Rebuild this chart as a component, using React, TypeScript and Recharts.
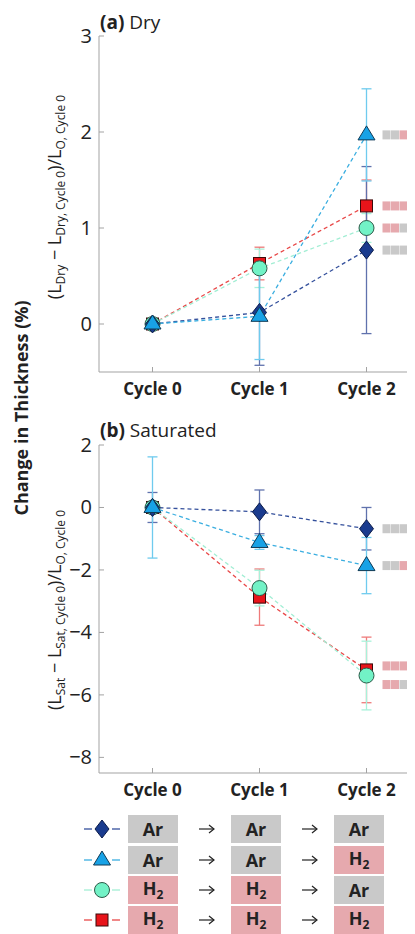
import React from 'react';
import { LineChart, Line, XAxis, YAxis, ErrorBar } from 'recharts';

const cycles = ['Cycle 0', 'Cycle 1', 'Cycle 2'];
const cycleIdx = [0, 1, 2];

// gas sequences per sample
const pathArArAr = ['Ar', 'Ar', 'Ar'];
const pathArArH2 = ['Ar', 'Ar', 'H2'];
const pathH2H2Ar = ['H2', 'H2', 'Ar'];
const pathH2H2H2 = ['H2', 'H2', 'H2'];

// (a) Dry
const dryArArAr = [0, 0.12, 0.77];
const dryArArArErr = [0.04, 0.55, 0.87];
const dryArArH2 = [0, 0.08, 1.97];
const dryArArH2Err = [0.04, 0.45, 0.48];
const dryH2H2Ar = [0, 0.58, 1.0];
const dryH2H2ArErr = [0.04, 0.2, 0.15];
const dryH2H2H2 = [0, 0.63, 1.23];
const dryH2H2H2Err = [0.04, 0.17, 0.27];

// (b) Saturated
const satArArAr = [0, -0.14, -0.68];
const satArArArErr = [0.48, 0.7, 0.68];
const satArArH2 = [0, -1.12, -1.86];
const satArArH2Err = [1.62, 0.22, 0.9];
const satH2H2Ar = [0, -2.58, -5.38];
const satH2H2ArErr = [0.1, 0.57, 1.1];
const satH2H2H2 = [0, -2.87, -5.2];
const satH2H2H2Err = [0.12, 0.9, 1.05];

const dryTicks = [0, 1, 2, 3];
const satTicks = [-8, -6, -4, -2, 0, 2];

const FONT = '"Open Sans", sans-serif';
const AXIS = '#a3a3a3';
const GRAY = '#c9c9c9';
const PINK = '#e6a9ae';

type Shape = 'diamond' | 'triangle' | 'circle' | 'square';

// drawing order: square, circle, diamond, triangle
const series = [
  { key: 'hhh', shape: 'square' as Shape, fill: '#e8141a', edge: '#3a0a0a', line: '#e84848', err: '#ee7a7a', path: pathH2H2H2 },
  { key: 'hha', shape: 'circle' as Shape, fill: '#72f2c6', edge: '#2c5a48', line: '#a2eed4', err: '#a8f2da', path: pathH2H2Ar },
  { key: 'aaa', shape: 'diamond' as Shape, fill: '#1a3b8e', edge: '#0c1c4a', line: '#34509c', err: '#6072ad', path: pathArArAr },
  { key: 'aah', shape: 'triangle' as Shape, fill: '#18a2e6', edge: '#103a55', line: '#3aaee0', err: '#6fcbee', path: pathArArH2 },
];

const legendOrder = ['aaa', 'aah', 'hha', 'hhh'];

const buildRows = (vals: Record<string, number[]>, errs: Record<string, number[]>) =>
  cycleIdx.map((i) => {
    const r: any = { x: i };
    Object.keys(vals).forEach((k) => {
      r[k] = vals[k][i];
      r[k + 'Err'] = errs[k][i];
    });
    return r;
  });

const dryData = buildRows(
  { aaa: dryArArAr, aah: dryArArH2, hha: dryH2H2Ar, hhh: dryH2H2H2 },
  { aaa: dryArArArErr, aah: dryArArH2Err, hha: dryH2H2ArErr, hhh: dryH2H2H2Err }
);
const satData = buildRows(
  { aaa: satArArAr, aah: satArArH2, hha: satH2H2Ar, hhh: satH2H2H2 },
  { aaa: satArArArErr, aah: satArArH2Err, hha: satH2H2ArErr, hhh: satH2H2H2Err }
);

const Marker = ({ shape, cx, cy, fill, edge }: any) => {
  if (shape === 'diamond')
    return <polygon points={`${cx},${cy - 9} ${cx + 7},${cy} ${cx},${cy + 9} ${cx - 7},${cy}`} fill={fill} stroke={edge} strokeWidth={1} />;
  if (shape === 'triangle')
    return <polygon points={`${cx},${cy - 9} ${cx + 8.5},${cy + 5} ${cx - 8.5},${cy + 5}`} fill={fill} stroke={edge} strokeWidth={1} />;
  if (shape === 'circle') return <circle cx={cx} cy={cy} r={7.5} fill={fill} stroke={edge} strokeWidth={1} />;
  return <rect x={cx - 6} y={cy - 6} width={12} height={12} fill={fill} stroke={edge} strokeWidth={1} />;
};

const makeDot = (s: any, boxOffset: number) => (props: any) => {
  const { cx, cy, index } = props;
  if (cx == null || cy == null) return <g key={`d-${s.key}-${index}`} />;
  return (
    <g key={`d-${s.key}-${index}`}>
      <Marker shape={s.shape} cx={cx} cy={cy} fill={s.fill} edge={s.edge} />
      {index === 2 &&
        s.path.map((g: string, j: number) => (
          <rect key={j} x={cx + 16 + j * 8.5} y={cy + boxOffset - 4.5} width={8} height={9} fill={g === 'Ar' ? GRAY : PINK} />
        ))}
    </g>
  );
};

const YTick = (props: any) => {
  const { x, y, payload } = props;
  const label = String(payload.value).replace('-', '\u2212');
  return (
    <g>
      <line x1={x + 7} x2={x + 12} y1={y} y2={y} stroke={AXIS} />
      <text x={x} y={y} dy="0.35em" textAnchor="end" fontSize={20} fill="#222" fontFamily={FONT}>
        {label}
      </text>
    </g>
  );
};

const XTick = (props: any) => {
  const { x, y, payload } = props;
  return (
    <g>
      <line x1={x} x2={x} y1={y} y2={y - 5} stroke={AXIS} />
      <text x={x} y={y + 23} textAnchor="middle" fontSize={17} fontWeight="bold" fill="#222" fontFamily={FONT}>
        {cycles[payload.value]}
      </text>
    </g>
  );
};

const TopTick = (props: any) => {
  const { x, y } = props;
  return <line x1={x} x2={x} y1={y} y2={y + 5} stroke={AXIS} />;
};

const Panel = ({ data, domain, ticks, top, height, boxOffsets }: any) => (
  <LineChart width={420} height={height} data={data} margin={{ top, right: 0, bottom: 0, left: 54 }}>
    <XAxis
      dataKey="x"
      type="number"
      domain={[-0.5, 2.5]}
      ticks={cycleIdx}
      height={28}
      tickSize={0}
      tickMargin={0}
      tickLine={false}
      axisLine={{ stroke: AXIS }}
      tick={<XTick />}
      interval={0}
    />
    <XAxis
      xAxisId="top"
      orientation="top"
      dataKey="x"
      type="number"
      domain={[-0.5, 2.5]}
      ticks={cycleIdx}
      height={0}
      tickSize={0}
      tickMargin={0}
      tickLine={false}
      axisLine={{ stroke: AXIS }}
      tick={<TopTick />}
      interval={0}
    />
    <YAxis
      type="number"
      domain={domain}
      ticks={ticks}
      width={45}
      tickSize={0}
      tickMargin={7}
      tickLine={false}
      axisLine={{ stroke: AXIS }}
      tick={<YTick />}
      allowDataOverflow
      interval={0}
    />
    {series.map((s) => (
      <Line
        key={s.key}
        dataKey={s.key}
        type="linear"
        stroke={s.line}
        strokeWidth={1.3}
        strokeDasharray="4 3"
        dot={makeDot(s, boxOffsets[s.key] || 0)}
        activeDot={false}
        isAnimationActive={false}
      >
        <ErrorBar dataKey={s.key + 'Err'} width={5} stroke={s.err} strokeWidth={1.3} direction="y" />
      </Line>
    ))}
  </LineChart>
);

const GasBox = ({ gas, left, top }: any) => (
  <div
    style={{
      position: 'absolute',
      left,
      top,
      width: 50,
      height: 28,
      background: gas === 'Ar' ? GRAY : PINK,
      display: 'flex',
      alignItems: 'center',
      justifyContent: 'center',
      fontWeight: 'bold',
      fontSize: 18,
      lineHeight: '18px',
      color: '#222',
    }}
  >
    {gas === 'Ar' ? (
      <span>Ar</span>
    ) : (
      <span style={{ marginTop: -2 }}>
        H<span style={{ fontSize: 12, position: 'relative', top: 4 }}>2</span>
      </span>
    )}
  </div>
);

const Arrow = ({ left, top }: any) => (
  <svg width={20} height={28} style={{ position: 'absolute', left, top }}>
    <line x1={2} x2={17} y1={14} y2={14} stroke="#222" strokeWidth={1.2} />
    <polyline points="12,10 17,14 12,18" fill="none" stroke="#222" strokeWidth={1.2} />
  </svg>
);

const legendRowY = [829, 860, 890, 920];

export default function App() {
  return (
    <div style={{ position: 'relative', width: 415, height: 934, marginLeft: -8, marginTop: -8, overflow: 'hidden', background: '#fff', fontFamily: FONT }}>
      <div style={{ position: 'absolute', left: 0, top: 0 }}>
        <Panel data={dryData} domain={[-0.5, 3]} ticks={dryTicks} top={36} height={400} boxOffsets={{}} />
      </div>
      <div style={{ position: 'absolute', left: 0, top: 400 }}>
        <Panel data={satData} domain={[-8.5, 2]} ticks={satTicks} top={45} height={401} boxOffsets={{ hha: 9, hhh: -4 }} />
      </div>
      <svg width={415} height={934} style={{ position: 'absolute', left: 0, top: 0, pointerEvents: 'none' }} fontFamily={FONT} fill="#222">
        <text x={100} y={29} fontSize={19}>
          <tspan fontWeight="bold">(a)</tspan> Dry
        </text>
        <text x={100} y={437} fontSize={19}>
          <tspan fontWeight="bold">(b)</tspan> Saturated
        </text>
        <text transform="translate(28,408) rotate(-90)" textAnchor="middle" fontSize={18} fontWeight="bold">
          Change in Thickness (%)
        </text>
        <text transform="translate(61,197) rotate(-90)" textAnchor="middle" fontSize={18}>
          (L<tspan fontSize={12} dy={4}>Dry</tspan>
          <tspan dy={-4}> − L</tspan>
          <tspan fontSize={12} dy={4}>Dry, Cycle 0</tspan>
          <tspan dy={-4}>)/L</tspan>
          <tspan fontSize={12} dy={4}>O, Cycle 0</tspan>
        </text>
        <text transform="translate(61,610) rotate(-90)" textAnchor="middle" fontSize={18}>
          (L<tspan fontSize={12} dy={4}>Sat</tspan>
          <tspan dy={-4}> − L</tspan>
          <tspan fontSize={12} dy={4}>Sat, Cycle 0</tspan>
          <tspan dy={-4}>)/L</tspan>
          <tspan fontSize={12} dy={4}>O, Cycle 0</tspan>
        </text>
      </svg>
      {legendOrder.map((k, r) => {
        const s = series.find((q) => q.key === k)!;
        const cy = legendRowY[r];
        return (
          <React.Fragment key={k}>
            <svg width={40} height={28} style={{ position: 'absolute', left: 82, top: cy - 14 }}>
              <line x1={2} x2={10} y1={14} y2={14} stroke={s.line} strokeWidth={1.3} />
              <line x1={30} x2={38} y1={14} y2={14} stroke={s.line} strokeWidth={1.3} />
              <Marker shape={s.shape} cx={20} cy={14} fill={s.fill} edge={s.edge} />
            </svg>
            <GasBox gas={s.path[0]} left={128} top={cy - 14} />
            <Arrow left={197} top={cy - 14} />
            <GasBox gas={s.path[1]} left={231} top={cy - 14} />
            <Arrow left={300} top={cy - 14} />
            <GasBox gas={s.path[2]} left={334} top={cy - 14} />
          </React.Fragment>
        );
      })}
    </div>
  );
}
